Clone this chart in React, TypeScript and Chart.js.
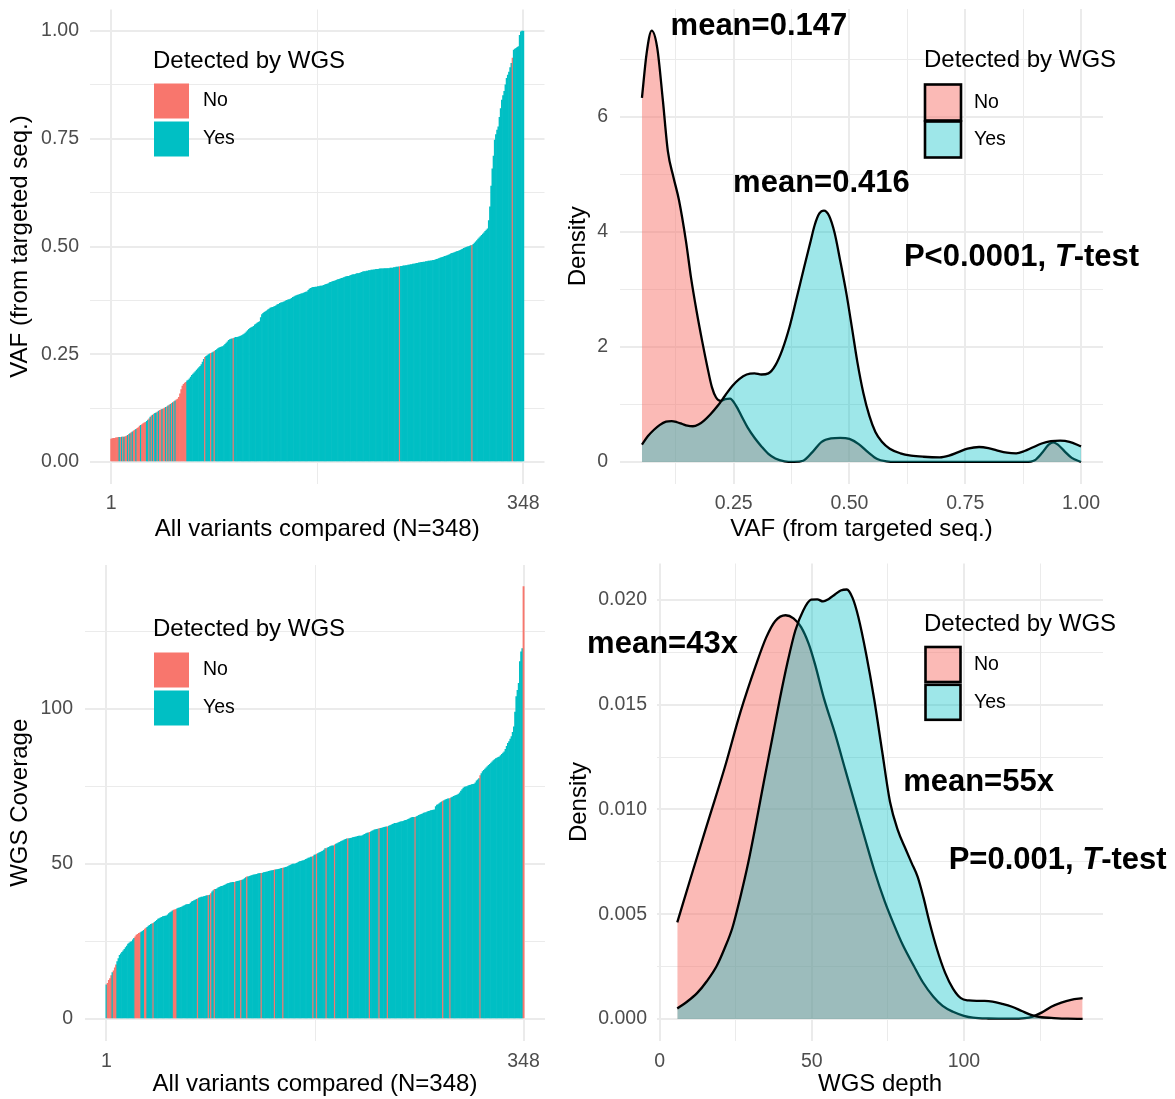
import React, { useEffect, useRef } from "react";
import { Chart, registerables } from "chart.js";

Chart.register(...registerables);

const FONT = '"Liberation Sans", Arial, Helvetica, sans-serif';
Chart.defaults.font.family = FONT;

// ---------------- data: per-variant bars (sorted) ----------------
const vafByVariant = [
  // 1-18
  0.053, 0.054, 0.055, 0.055, 0.056, 0.056, 0.057, 0.057, 0.057, 0.058, 0.058, 0.058, 0.059, 0.06, 0.062, 0.064, 0.066, 0.068,
  // 19-35
  0.07, 0.072, 0.074, 0.076, 0.078, 0.08, 0.083, 0.085, 0.087, 0.089, 0.091, 0.092, 0.094, 0.097, 0.1, 0.104, 0.107,
  // 36-48
  0.109, 0.111, 0.113, 0.114, 0.116, 0.118, 0.12, 0.121, 0.122, 0.123, 0.125, 0.127, 0.128,
  // 49-60
  0.13, 0.132, 0.134, 0.136, 0.138, 0.14, 0.142, 0.144, 0.146, 0.15, 0.158, 0.168,
  // 61-76
  0.176, 0.18, 0.183, 0.185, 0.188, 0.19, 0.193, 0.197, 0.201, 0.204, 0.207, 0.21, 0.213, 0.216, 0.219, 0.222,
  // 77-96
  0.226, 0.232, 0.238, 0.243, 0.245, 0.247, 0.249, 0.251, 0.252, 0.253, 0.255, 0.257, 0.259, 0.261, 0.263, 0.265, 0.266, 0.267, 0.268, 0.27,
  // 97-115
  0.273, 0.276, 0.279, 0.282, 0.284, 0.285, 0.286, 0.287, 0.288, 0.289, 0.289, 0.29, 0.291, 0.292, 0.293, 0.295, 0.297, 0.299, 0.302,
  // 116-129
  0.305, 0.308, 0.31, 0.312, 0.313, 0.315, 0.318, 0.32, 0.322, 0.324, 0.326, 0.335, 0.342, 0.345,
  // 130-143
  0.347, 0.349, 0.351, 0.353, 0.355, 0.357, 0.358, 0.359, 0.36, 0.361, 0.363, 0.365, 0.366, 0.368,
  // 144-166
  0.369, 0.37, 0.371, 0.372, 0.374, 0.375, 0.376, 0.377, 0.378, 0.38, 0.382, 0.383, 0.385, 0.386, 0.387, 0.388, 0.389, 0.39, 0.391, 0.392, 0.393, 0.394, 0.395,
  // 167-185
  0.398, 0.401, 0.403, 0.404, 0.405, 0.405, 0.406, 0.406, 0.407, 0.407, 0.408, 0.408, 0.409, 0.41, 0.411, 0.412, 0.413, 0.414, 0.416,
  // 186-204
  0.417, 0.418, 0.419, 0.42, 0.421, 0.422, 0.423, 0.424, 0.425, 0.426, 0.427, 0.428, 0.429, 0.43, 0.431, 0.431, 0.432, 0.433, 0.434,
  // 205-224
  0.435, 0.435, 0.436, 0.437, 0.437, 0.438, 0.439, 0.44, 0.441, 0.442, 0.442, 0.443, 0.443, 0.444, 0.444, 0.445, 0.445, 0.446, 0.446, 0.447,
  // 225-244
  0.447, 0.447, 0.448, 0.448, 0.448, 0.448, 0.449, 0.449, 0.449, 0.449, 0.449, 0.45, 0.45, 0.45, 0.451, 0.451, 0.452, 0.452, 0.453, 0.453,
  // 245-258
  0.454, 0.454, 0.455, 0.455, 0.456, 0.456, 0.457, 0.457, 0.458, 0.458, 0.459, 0.459, 0.46, 0.461,
  // 259-275
  0.461, 0.462, 0.462, 0.463, 0.463, 0.464, 0.464, 0.465, 0.465, 0.466, 0.466, 0.467, 0.467, 0.468, 0.468, 0.469, 0.47,
  // 276-287
  0.471, 0.472, 0.473, 0.474, 0.475, 0.476, 0.477, 0.478, 0.479, 0.48, 0.481, 0.483,
  // 288-298
  0.484, 0.485, 0.486, 0.487, 0.488, 0.489, 0.49, 0.491, 0.493, 0.494, 0.496,
  // 299-305
  0.497, 0.498, 0.499, 0.5, 0.501, 0.502, 0.503,
  // 306-312
  0.505, 0.508, 0.511, 0.514, 0.517, 0.52, 0.523,
  // 313-320
  0.526, 0.529, 0.532, 0.535, 0.538, 0.541, 0.56, 0.592,
  // 321-330
  0.64, 0.68, 0.71, 0.747, 0.76, 0.77, 0.778, 0.8, 0.82, 0.84,
  // 331-340
  0.85, 0.86, 0.875, 0.89, 0.898, 0.905, 0.915, 0.925, 0.937, 0.956,
  // 341-348
  0.958, 0.96, 0.962, 0.964, 0.99, 0.998, 1.0, 1.0,
];
const vafUndetected = [
  1, 2, 3, 4, 5, 6, 7, 9, 11, 13, 14, 16, 18, 20, 21, 23, 24, 25, 27, 28, 29, 30, 33, 35, 37, 40, 42, 43, 45, 46,
  48, 50, 52, 54, 56, 57, 58, 59, 60, 61, 62, 63, 64, 80, 85, 88, 104, 244, 305, 339,
];

const coverageByVariant = [
  11.0, 11.5, 12.5, 13.0, 14.0, 15.0, 15.5, 16.5, 17.5, 18.5,
  19.5, 20.5, 21.0, 21.5, 22.0, 22.5, 23.0, 23.5, 24.2, 24.5,
  24.8, 25.0, 25.5, 26.0, 26.5, 27.1, 27.3, 27.6, 27.8, 28.0,
  28.3, 28.6, 29.0, 29.3, 29.6, 30.0, 30.2, 30.5, 30.7, 30.9,
  31.2, 31.5, 31.8, 32.2, 32.4, 32.6, 32.8, 33.0, 33.1, 33.2,
  33.3, 33.6, 34.0, 34.3, 34.6, 34.9, 35.1, 35.2, 35.4, 35.6,
  35.8, 35.9, 36.0, 36.2, 36.4, 36.6, 36.8, 36.9, 37.0, 37.0,
  37.4, 37.8, 38.0, 38.2, 38.4, 38.6, 38.8, 39.0, 39.2, 39.3,
  39.3, 39.5, 39.6, 39.7, 39.8, 39.9, 40.0, 40.5, 41.0, 41.4,
  41.8, 41.8, 42.0, 42.3, 42.5, 42.7, 42.8, 42.9, 43.1, 43.3,
  43.5, 43.7, 43.8, 43.9, 44.0, 44.1, 44.1, 44.1, 44.3, 44.4,
  44.5, 44.6, 44.7, 44.8, 45.0, 45.3, 45.6, 45.9, 45.9, 46.0,
  46.2, 46.3, 46.4, 46.5, 46.6, 46.7, 46.8, 46.9, 47.0, 47.0,
  47.1, 47.2, 47.3, 47.4, 47.5, 47.6, 47.7, 47.8, 47.9, 48.0,
  48.1, 48.1, 48.2, 48.3, 48.4, 48.5, 48.6, 48.7, 48.8, 48.9,
  49.0, 49.2, 49.4, 49.6, 49.8, 50.0, 50.0, 50.0, 50.2, 50.4,
  50.6, 50.8, 50.9, 51.0, 51.1, 51.3, 51.5, 51.7, 51.9, 52.0,
  52.2, 52.2, 52.5, 52.9, 53.0, 53.2, 53.4, 53.6, 53.8, 54.0,
  54.2, 54.5, 55.0, 55.0, 55.2, 55.4, 55.6, 55.8, 55.9, 55.9,
  56.2, 56.4, 56.6, 56.8, 57.0, 57.2, 57.4, 57.6, 57.8, 58.0,
  58.1, 58.1, 58.2, 58.3, 58.4, 58.5, 58.6, 58.7, 58.8, 58.9,
  59.0, 59.0, 59.0, 59.2, 59.4, 59.6, 59.8, 60.0, 60.1, 60.2,
  60.4, 60.6, 60.8, 61.0, 61.1, 61.2, 61.3, 61.4, 61.5, 61.6,
  61.7, 61.8, 61.9, 62.0, 62.0, 62.2, 62.4, 62.6, 62.8, 63.0,
  63.1, 63.1, 63.2, 63.4, 63.5, 63.6, 63.7, 63.8, 64.0, 64.1,
  64.2, 64.4, 64.6, 64.8, 65.0, 65.1, 65.1, 65.1, 65.3, 65.5,
  65.7, 65.9, 66.0, 66.2, 66.4, 66.5, 66.6, 66.8, 67.0, 67.1,
  67.2, 67.3, 67.4, 67.5, 68.5, 69.0, 69.2, 69.5, 69.8, 70.1,
  70.3, 70.5, 70.7, 70.9, 71.0, 71.0, 71.2, 71.4, 71.6, 71.8,
  72.0, 72.2, 72.3, 72.6, 73.0, 73.5, 74.0, 74.5, 74.8, 74.9,
  75.0, 75.2, 75.4, 75.5, 75.6, 75.7, 75.8, 76.2, 76.8, 77.2,
  77.6, 78.5, 79.2, 79.8, 80.2, 80.6, 81.0, 81.4, 81.8, 82.2,
  82.6, 83.0, 83.4, 83.7, 84.0, 84.2, 84.4, 84.6, 85.0, 85.4,
  85.8, 86.2, 87.0, 88.0, 88.9, 89.5, 90.3, 91.1, 92.5, 94.3,
  99.0, 104.0, 106.0, 108.3, 115.3, 118.5, 119.5, 139.5,
];
const coverageUndetected = [
  2, 3, 4, 5, 7, 8, 9, 25, 26, 27, 28, 29, 33, 34, 40, 57, 58, 59, 77, 86, 88, 91, 108, 113, 118, 130, 141, 148,
  173, 176, 184, 191, 202, 220, 228, 235, 258, 281, 287, 312, 348,
];

const variantTicks = [1, 348];
const variantTickLabels = ["1", "348"];
const vafBarTicks = [0, 0.25, 0.5, 0.75, 1];
const vafBarTickLabels = ["0.00", "0.25", "0.50", "0.75", "1.00"];
const coverageTicks = [0, 50, 100];
const coverageTickLabels = ["0", "50", "100"];

// ---------------- data: density of VAF ----------------
const vafDensNoX = [
  0.052, 0.062, 0.073, 0.085, 0.097, 0.108, 0.12, 0.132, 0.147, 0.158, 0.17, 0.182, 0.193, 0.203, 0.212, 0.222,
  0.232, 0.242, 0.255, 0.268, 0.28, 0.295, 0.31, 0.325, 0.34, 0.36, 0.38, 0.4, 0.42, 0.44, 0.46, 0.48, 0.5, 0.52,
  0.54, 0.56, 0.58, 0.6, 0.7, 0.8, 0.88, 0.9, 0.915, 0.93, 0.94, 0.95, 0.965, 0.98, 1.0,
];
const vafDensNoY = [
  6.33, 7.1, 7.5, 7.2, 6.3, 5.4, 4.95, 4.55, 3.84, 3.2, 2.62, 2.1, 1.66, 1.3, 1.12, 1.06,
  1.09, 1.1, 0.98, 0.78, 0.6, 0.42, 0.27, 0.14, 0.06, 0.01, 0.0, 0.02, 0.17, 0.35, 0.41, 0.42, 0.4, 0.31,
  0.17, 0.05, 0.01, 0.0, 0.0, 0.0, 0.0, 0.03, 0.15, 0.3, 0.34, 0.3, 0.18, 0.07, 0.0,
];
const vafDensYesX = [
  0.052, 0.065, 0.078, 0.09, 0.104, 0.116, 0.128, 0.139, 0.15, 0.162, 0.174, 0.186, 0.2, 0.216, 0.232, 0.247,
  0.262, 0.278, 0.295, 0.31, 0.325, 0.34, 0.355, 0.371, 0.386, 0.402, 0.415, 0.425, 0.435, 0.445, 0.456, 0.468,
  0.48, 0.494, 0.506, 0.517, 0.53, 0.543, 0.556, 0.57, 0.587, 0.61, 0.633, 0.66, 0.695, 0.715, 0.735, 0.755,
  0.78, 0.8, 0.818, 0.84, 0.86, 0.878, 0.895, 0.915, 0.935, 0.955, 0.975, 1.0,
];
const vafDensYesY = [
  0.3, 0.45, 0.56, 0.64, 0.7, 0.71, 0.69, 0.66, 0.63, 0.62, 0.65, 0.72, 0.83, 0.98, 1.16, 1.32,
  1.44, 1.52, 1.54, 1.52, 1.54, 1.68, 1.95, 2.36, 2.85, 3.38, 3.8, 4.12, 4.32, 4.37, 4.28, 3.98,
  3.5, 2.9, 2.3, 1.74, 1.2, 0.8, 0.52, 0.35, 0.23, 0.15, 0.11, 0.09, 0.08, 0.11, 0.17, 0.23,
  0.26, 0.24, 0.2, 0.16, 0.15, 0.19, 0.25, 0.32, 0.36, 0.37, 0.35, 0.27,
];
const vafDensXTicks = [0.25, 0.5, 0.75, 1];
const vafDensXTickLabels = ["0.25", "0.50", "0.75", "1.00"];
const vafDensYTicks = [0, 2, 4, 6];
const vafDensYTickLabels = ["0", "2", "4", "6"];

// ---------------- data: density of WGS depth ----------------
const depthDensNoX = [
  5.8, 11.0, 16.2, 21.4, 26.5, 31.7, 35.0, 38.0, 41.4, 44.0, 46.5, 49.0, 51.1, 54.0, 57.6, 61.0, 64.0, 67.5,
  70.5, 74.0, 77.0, 80.0, 83.5, 86.5, 89.9, 93.0, 96.4, 100.0, 103.0, 108.0, 115.8, 120.0, 122.3, 125.5, 128.7,
  132.0, 135.2, 139.0,
];
const depthDensNoY = [
  0.00461, 0.00711, 0.00956, 0.012, 0.01462, 0.01691, 0.0182, 0.019, 0.01927, 0.01912, 0.0187, 0.0179, 0.01691,
  0.0153, 0.01364, 0.0119, 0.01037, 0.0086, 0.00711, 0.0056, 0.0045, 0.0035, 0.00254, 0.00175, 0.00107, 0.00062,
  0.00034, 0.00015, 0.00006, 0.00002, 0.00001, 0.00004, 0.0001, 0.0003, 0.00058, 0.00078, 0.00091, 0.00099,
];
const depthDensYesX = [
  5.8, 9.0, 12.3, 15.5, 18.8, 21.3, 23.9, 26.5, 29.1, 31.7, 34.3, 36.9, 39.5, 42.0, 44.6, 47.2, 49.8, 51.8,
  53.7, 55.6, 57.6, 59.5, 61.5, 63.4, 65.3, 67.9, 70.5, 73.1, 75.7, 78.3, 80.9, 82.8, 84.8, 86.7, 88.6, 91.2,
  93.8, 96.4, 99.0, 101.6, 104.2, 106.8, 109.4, 112.6, 115.8, 119.0, 122.3, 125.5, 128.7, 134.0, 139.0,
];
const depthDensYesY = [
  0.0005, 0.00082, 0.00123, 0.0018, 0.00254, 0.00335, 0.00434, 0.0058, 0.00744, 0.00935, 0.01136, 0.0133,
  0.01527, 0.017, 0.01854, 0.0195, 0.02001, 0.02003, 0.01993, 0.02005, 0.02026, 0.02045, 0.0205, 0.0201,
  0.01919, 0.0174, 0.01527, 0.0128, 0.01037, 0.009, 0.00809, 0.00745, 0.00678, 0.0058, 0.00466, 0.0033,
  0.00221, 0.00145, 0.00099, 0.00088, 0.00086, 0.00086, 0.00083, 0.00072, 0.00058, 0.00038, 0.00018, 0.00008,
  0.00005, 0.00001, 0.0,
];
const depthXTicks = [0, 50, 100];
const depthXTickLabels = ["0", "50", "100"];
const depthYTicks = [0, 0.005, 0.01, 0.015, 0.02];
const depthYTickLabels = ["0.000", "0.005", "0.010", "0.015", "0.020"];

// ---------------- text ----------------
const groupLabels = ["No", "Yes"];
const legendTitle = "Detected by WGS";
type Part = { t: string; italic?: boolean };
const vafNotes: Part[][] = [
  [{ t: "mean=0.147" }],
  [{ t: "mean=0.416" }],
  [{ t: "P<0.0001, " }, { t: "T", italic: true }, { t: "-test" }],
];
const vafNoteAnchors = [[0.3045, 7.58], [0.4395, 4.85], [0.8715, 3.55]];
const depthNotes: Part[][] = [
  [{ t: "mean=43x" }],
  [{ t: "mean=55x" }],
  [{ t: "P=0.001, " }, { t: "T", italic: true }, { t: "-test" }],
];
const depthNoteAnchors = [[0.95, 0.01786], [104.8, 0.01128], [130.8, 0.00758]];

// ---------------- styles ----------------
const RED = "#F8766D";
const TEAL = "#00BFC4";
const RED_FILL = "rgba(248,118,109,0.5)";
const TEAL_FILL = "rgba(0,191,196,0.38)";
const GRID = "#EBEBEB";
const TICK_COLOR = "#4D4D4D";
const TICK_SIZE = 19.5;
const TITLE_SIZE = 24;
const NOTE_SIZE = 31;

type TickItem = { value: number; isMajor: boolean };
function withMinor(majors: number[], min: number, max: number): TickItem[] {
  const step = majors.length > 1 ? majors[1] - majors[0] : 1;
  const all: TickItem[] = [{ value: majors[0] - step / 2, isMajor: false }];
  majors.forEach((m, i) => {
    all.push({ value: m, isMajor: true });
    if (i < majors.length - 1) all.push({ value: (m + majors[i + 1]) / 2, isMajor: false });
  });
  all.push({ value: majors[majors.length - 1] + step / 2, isMajor: false });
  return all.filter((t) => t.value >= min && t.value <= max);
}

type AxisSpec = {
  min: number; max: number; majors: number[]; labels: string[]; title: string;
  size: number; tickPad: number; titlePad: number;
};

function linearAxis(spec: AxisSpec, horizontal: boolean): any {
  const ticks = withMinor(spec.majors, spec.min, spec.max);
  return {
    type: "linear",
    position: horizontal ? "bottom" : "left",
    min: spec.min,
    max: spec.max,
    bounds: "data",
    offset: false,
    afterBuildTicks: (scale: any) => {
      scale.ticks = ticks.map((t) => ({ value: t.value, isMajor: t.isMajor }));
    },
    afterFit: (scale: any) => {
      if (horizontal) scale.height = spec.size;
      else scale.width = spec.size;
      scale.paddingTop = 0;
      scale.paddingBottom = 0;
      scale.paddingLeft = 0;
      scale.paddingRight = 0;
    },
    ticks: {
      autoSkip: false,
      maxRotation: 0,
      minRotation: 0,
      padding: spec.tickPad,
      color: TICK_COLOR,
      font: { family: FONT, size: TICK_SIZE },
      callback: (value: number) => {
        const i = spec.majors.indexOf(value);
        return i >= 0 ? spec.labels[i] : "";
      },
    },
    grid: {
      color: GRID,
      lineWidth: (ctx: any) => (ctx.tick && ctx.tick.isMajor ? 2 : 1),
      drawTicks: false,
      offset: false,
    },
    border: { display: false },
    title: {
      display: true,
      text: spec.title,
      color: "#000",
      font: { family: FONT, size: TITLE_SIZE },
      padding: horizontal ? { top: 0, bottom: spec.titlePad } : { top: spec.titlePad, bottom: 0 },
    },
  };
}

type LegendSpec = {
  titleDx: number; titleDy: number; keyDx: number; keyDy: number; key: number; step: number;
  labelDx: number; bordered: boolean; fills: string[];
};

function overlayPlugin(legend: LegendSpec, notes: Part[][], anchors: number[][]) {
  return {
    id: "overlay",
    afterDraw(chart: any) {
      const { ctx, chartArea, scales } = chart;
      ctx.save();
      ctx.textBaseline = "middle";
      ctx.textAlign = "left";
      ctx.fillStyle = "#000";
      ctx.font = `${TITLE_SIZE}px ${FONT}`;
      ctx.fillText(legendTitle, chartArea.left + legend.titleDx, chartArea.top + legend.titleDy);
      groupLabels.forEach((lab, i) => {
        const x = chartArea.left + legend.keyDx;
        const y = chartArea.top + legend.keyDy + i * legend.step;
        ctx.fillStyle = legend.fills[i];
        ctx.fillRect(x, y, legend.key, legend.key);
        if (legend.bordered) {
          ctx.strokeStyle = "#000";
          ctx.lineWidth = 2.6;
          ctx.strokeRect(x, y, legend.key, legend.key);
        }
        ctx.fillStyle = "#000";
        ctx.font = `${TICK_SIZE}px ${FONT}`;
        ctx.fillText(lab, chartArea.left + legend.labelDx, y + legend.key / 2);
      });
      notes.forEach((parts, k) => {
        const cx = scales.x.getPixelForValue(anchors[k][0]);
        const cy = scales.y.getPixelForValue(anchors[k][1]);
        const fontOf = (p: Part) => `${p.italic ? "italic " : ""}bold ${NOTE_SIZE}px ${FONT}`;
        const widths = parts.map((p) => {
          ctx.font = fontOf(p);
          return ctx.measureText(p.t).width;
        });
        let x = cx - widths.reduce((a, b) => a + b, 0) / 2;
        parts.forEach((p, j) => {
          ctx.font = fontOf(p);
          ctx.fillStyle = "#000";
          ctx.fillText(p.t, x, cy);
          x += widths[j];
        });
      });
      ctx.restore();
    },
  };
}

function baseOptions(padTop: number, padRight: number, x: any, y: any): any {
  return {
    responsive: false,
    animation: false,
    devicePixelRatio: 1,
    events: [],
    layout: { padding: { left: 0, top: padTop, right: padRight, bottom: 0 } },
    plugins: { legend: { display: false }, tooltip: { enabled: false } },
    scales: { x, y },
  };
}

function barConfig(values: number[], undetected: number[], yMin: number, yMax: number, yTicks: number[],
  yLabels: string[], yTitle: string, geo: any, legend: LegendSpec): any {
  return {
    type: "bar",
    data: {
      datasets: [
        {
          data: values.map((v, i) => ({ x: i + 1, y: v })),
          backgroundColor: values.map((_, i) => (undetected.includes(i + 1) ? RED : TEAL)),
          borderWidth: 0,
          barPercentage: 1,
          categoryPercentage: 1,
          grouped: false,
        },
      ],
    },
    options: baseOptions(
      geo.padTop,
      geo.padRight,
      linearAxis({ min: -16.85, max: 365.85, majors: variantTicks, labels: variantTickLabels,
        title: "All variants compared (N=348)", size: geo.xSize, tickPad: geo.xTickPad, titlePad: geo.xTitlePad }, true),
      linearAxis({ min: yMin, max: yMax, majors: yTicks, labels: yLabels, title: yTitle,
        size: geo.ySize, tickPad: geo.yTickPad, titlePad: geo.yTitlePad }, false),
    ),
    plugins: [overlayPlugin(legend, [], [])],
  };
}

function densityConfig(noX: number[], noY: number[], yesX: number[], yesY: number[], x: any, y: any,
  geo: any, legend: LegendSpec, notes: Part[][], anchors: number[][]): any {
  const line = (xs: number[], ys: number[], fill: string, order: number, label: string) => ({
    label,
    data: xs.map((v, i) => ({ x: v, y: ys[i] })),
    borderColor: "#000",
    backgroundColor: fill,
    borderWidth: 2.3,
    fill: "origin",
    pointRadius: 0,
    cubicInterpolationMode: "monotone",
    order,
  });
  return {
    type: "line",
    data: {
      datasets: [
        line(noX, noY, RED_FILL, 2, groupLabels[0]),
        line(yesX, yesY, TEAL_FILL, 1, groupLabels[1]),
      ],
    },
    options: baseOptions(geo.padTop, geo.padRight, linearAxis(x, true), linearAxis(y, false)),
    plugins: [overlayPlugin(legend, notes, anchors)],
  };
}

function Panel(props: { left: number; top: number; width: number; height: number; build: () => any }) {
  const ref = useRef<HTMLCanvasElement>(null);
  useEffect(() => {
    const chart = new Chart(ref.current as HTMLCanvasElement, props.build());
    return () => chart.destroy();
  }, []);
  return (
    <canvas
      ref={ref}
      width={props.width}
      height={props.height}
      style={{ position: "absolute", left: props.left, top: props.top, width: props.width, height: props.height }}
    />
  );
}

const buildA = () =>
  barConfig(vafByVariant, vafUndetected, -0.05, 1.05, vafBarTicks, vafBarTickLabels, "VAF (from targeted seq.)",
    { padTop: 9.5, padRight: 15.5, xSize: 65.5, xTickPad: 8.5, xTitlePad: 5.6, ySize: 90, yTickPad: 11, yTitlePad: 5.6 },
    { titleDx: 63, titleDy: 51.5, keyDx: 64, keyDy: 74, key: 35, step: 38, labelDx: 113, bordered: false, fills: [RED, TEAL] });

const buildC = () =>
  barConfig(coverageByVariant, coverageUndetected, -6.975, 146.475, coverageTicks, coverageTickLabels, "WGS Coverage",
    { padTop: 16, padRight: 15, xSize: 58.4, xTickPad: 9.4, xTitlePad: 0, ySize: 85, yTickPad: 12, yTitlePad: 5.6 },
    { titleDx: 68, titleDy: 64, keyDx: 69, keyDy: 87.5, key: 35, step: 38, labelDx: 118, bordered: false, fills: [RED, TEAL] });

const buildB = () =>
  densityConfig(vafDensNoX, vafDensNoY, vafDensYesX, vafDensYesY,
    { min: 0.0046, max: 1.0474, majors: vafDensXTicks, labels: vafDensXTickLabels, title: "VAF (from targeted seq.)",
      size: 65.5, tickPad: 8.5, titlePad: 5.6 },
    { min: -0.375, max: 7.875, majors: vafDensYTicks, labels: vafDensYTickLabels, title: "Density",
      size: 60, tickPad: 12, titlePad: 3.6 },
    { padTop: 9, padRight: 72 },
    { titleDx: 304, titleDy: 51, keyDx: 305, keyDy: 75.5, key: 36, step: 37, labelDx: 354, bordered: true, fills: [RED_FILL, TEAL_FILL] },
    vafNotes, vafNoteAnchors);

const buildD = () =>
  densityConfig(depthDensNoX, depthDensNoY, depthDensYesX, depthDensYesY,
    { min: -0.86, max: 145.7, majors: depthXTicks, labels: depthXTickLabels, title: "WGS depth",
      size: 58.3, tickPad: 9.3, titlePad: 0 },
    { min: -0.00104, max: 0.02174, majors: depthYTicks, labels: depthYTickLabels, title: "Density",
      size: 97, tickPad: 10, titlePad: 4.6 },
    { padTop: 14.5, padRight: 72 },
    { titleDx: 267, titleDy: 61, keyDx: 268.5, keyDy: 83.5, key: 35, step: 37.8, labelDx: 317, bordered: true, fills: [RED_FILL, TEAL_FILL] },
    depthNotes, depthNoteAnchors);

export default function App() {
  return (
    <div style={{ position: "absolute", left: 0, top: 0, width: 1175, height: 1099, background: "#fff", overflow: "hidden" }}>
      <Panel left={0} top={0} width={560} height={549} build={buildA} />
      <Panel left={560} top={0} width={615} height={549} build={buildB} />
      <Panel left={0} top={549} width={560} height={550} build={buildC} />
      <Panel left={560} top={549} width={615} height={550} build={buildD} />
    </div>
  );
}
